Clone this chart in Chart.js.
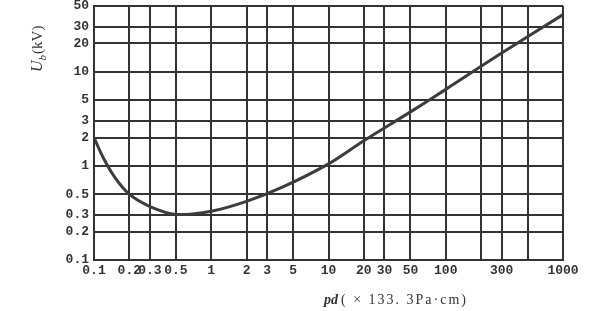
<!DOCTYPE html>
<html>
<head>
<meta charset="utf-8">
<script src="https://cdn.jsdelivr.net/npm/chart.js@4"></script>
<style>
  html, body { margin: 0; padding: 0; background: #fff; }
  #wrap { width: 600px; height: 311px; }
</style>
</head>
<body>
<div id="wrap"><canvas id="paschen" width="600" height="311"></canvas></div>
<script>
// Paschen curve: breakdown voltage vs pd (log-log)
const xTicks = [0.1, 0.2, 0.3, 0.5, 1, 2, 3, 5, 10, 20, 30, 50, 100, 200, 300, 500, 1000];
const xTickLabels = ['0.1', '0.2', '0.3', '0.5', '1', '2', '3', '5', '10', '20', '30', '50', '100', '', '300', '', '1000'];
const yTicks = [0.1, 0.2, 0.3, 0.5, 1, 2, 3, 5, 10, 20, 30, 50];
const yTickLabels = ['0.1', '0.2', '0.3', '0.5', '1', '2', '3', '5', '10', '20', '30', '50'];

const pdValues = [0.1, 0.12, 0.15, 0.2, 0.3, 0.5, 1, 2, 4, 10, 20, 50, 100, 300, 1000];
const ubValues = [2.0, 1.22, 0.76, 0.5, 0.37, 0.305, 0.33, 0.42, 0.59, 1.05, 1.85, 3.75, 6.5, 15.8, 40.5];

const ink = '#333333';
const tickFont = { family: "'Liberation Mono', monospace", size: 13, weight: 'bold' };

const axisTitles = {
    id: 'axisTitles',
    afterDraw(chart) {
        const ctx = chart.ctx;
        ctx.save();
        ctx.fillStyle = '#333';
        ctx.textBaseline = 'alphabetic';

        // y title, rotated
        ctx.translate(42, 72);
        ctx.rotate(-Math.PI / 2);
        ctx.font = "italic 16px 'Liberation Serif', serif";
        ctx.fillText('U', 0, 0);
        let w = ctx.measureText('U').width;
        ctx.font = "italic 11px 'Liberation Serif', serif";
        ctx.fillText('b', w, 4);
        w += ctx.measureText('b').width + 1;
        ctx.font = "15px 'Liberation Serif', serif";
        ctx.fillText('(kV)', w, 0);
        ctx.restore();

        // x title
        ctx.save();
        ctx.fillStyle = '#333';
        ctx.textBaseline = 'alphabetic';
        let x = 324;
        const y = 304;
        ctx.font = "bold italic 14px 'Liberation Serif', serif";
        ctx.fillText('pd', x, y);
        x += ctx.measureText('pd').width + 3;
        ctx.font = "14px 'Liberation Serif', serif";
        ctx.letterSpacing = '2px';
        ctx.fillText('( × 133. 3Pa·cm)', x, y);
        ctx.restore();
    }
};

new Chart(document.getElementById('paschen'), {
    type: 'line',
    data: {
        datasets: [{
            data: pdValues.map((v, i) => ({ x: v, y: ubValues[i] })),
            borderColor: '#3c3c3c',
            borderWidth: 3,
            pointRadius: 0,
            tension: 0.35,
            fill: false
        }]
    },
    options: {
        responsive: false,
        animation: false,
        layout: { padding: { top: 6, right: 37, left: 0, bottom: 0 } },
        plugins: {
            legend: { display: false },
            tooltip: { enabled: false }
        },
        scales: {
            x: {
                type: 'logarithmic',
                min: 0.1,
                max: 1000,
                afterBuildTicks: (scale) => { scale.ticks = xTicks.map(v => ({ value: v })); },
                afterFit: (scale) => { scale.height = 51; },
                grid: { color: ink, lineWidth: 2, drawTicks: false },
                border: { color: ink, width: 2 },
                ticks: {
                    autoSkip: false,
                    maxRotation: 0,
                    padding: 3,
                    color: '#333',
                    font: tickFont,
                    callback: (v) => {
                        const i = xTicks.indexOf(v);
                        return i >= 0 ? xTickLabels[i] : '';
                    }
                }
            },
            y: {
                type: 'logarithmic',
                min: 0.1,
                max: 50,
                afterBuildTicks: (scale) => { scale.ticks = yTicks.map(v => ({ value: v })); },
                afterFit: (scale) => {
                    scale.width = 94;
                    scale.paddingTop = 0;
                    scale.paddingBottom = 0;
                },
                grid: { color: ink, lineWidth: 2, drawTicks: false },
                border: { color: ink, width: 2 },
                ticks: {
                    autoSkip: false,
                    padding: 5,
                    color: '#333',
                    font: tickFont,
                    callback: (v) => {
                        const i = yTicks.indexOf(v);
                        return i >= 0 ? yTickLabels[i] : '';
                    }
                }
            }
        }
    },
    plugins: [axisTitles]
});
</script>
</body>
</html>
